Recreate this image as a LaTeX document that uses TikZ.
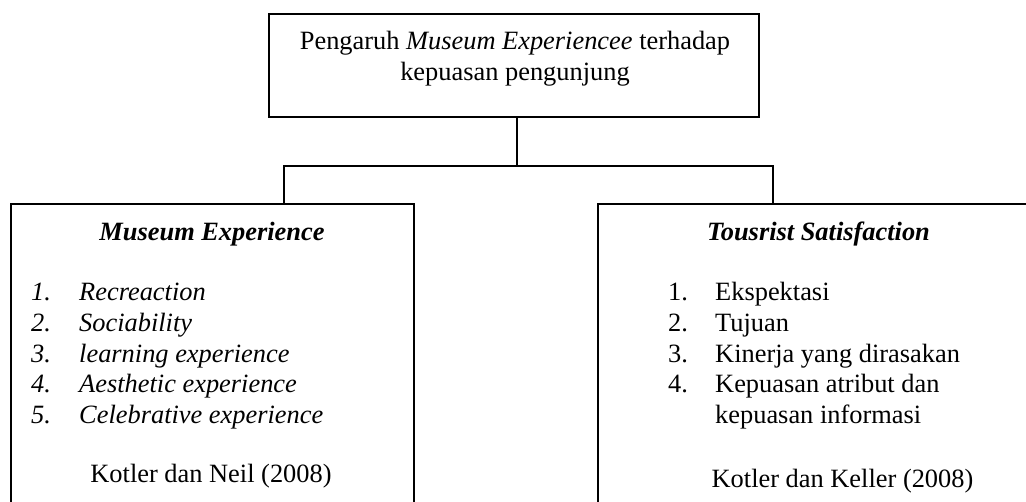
\documentclass[tikz,border=0pt]{standalone}
\usepackage{fontspec}
\setmainfont{Liberation Serif}
\begin{document}
\begin{tikzpicture}[x=1pt,y=-1pt,
  every node/.style={font=\fontsize{26.4}{31}\selectfont, inner sep=0pt},
  boxstyle/.style={draw, line width=1.4pt, rectangle},
  conn/.style={line width=1.4pt},
  itemtxt/.style={anchor=base west},
  ctr/.style={anchor=base}]
\useasboundingbox (0,0) rectangle (1026,501);
\fill[white] (0,0) rectangle (1026,501);
\begin{scope}
\clip (0,0) rectangle (1026,501);
\node[boxstyle, minimum width=490pt, minimum height=103pt] (top) at (514,65.5) {};
\node[boxstyle, minimum width=403pt, minimum height=330pt] (lbox) at (212.5,369) {};
\node[boxstyle, minimum width=441pt, minimum height=330pt] (rbox) at (818.5,369) {};
\end{scope}
% connectors
\coordinate (j) at (517,166);
\coordinate (jl) at (284,166);
\coordinate (jr) at (773,166);
\draw[conn] (top.south -| j) -- (j);
\draw[conn] (lbox.north -| jl) -- (jl) -- (jr) -- (rbox.north -| jr);
% top text
\node[ctr] (t1) at (515,49) {Pengaruh \textit{Museum Experiencee} terhadap};
\node[ctr] (t2) at (515,80) {kepuasan pengunjung};
% left box
\node[ctr] (lt) at (212,240) {\textbf{\textit{Museum Experience}}};
\foreach \n/\y/\t in {1/300/Recreaction, 2/331/Sociability, 3/362/learning experience, 4/392/Aesthetic experience, 5/423/Celebrative experience}{
  \node[itemtxt] (ln\n) at (31,\y) {\textit{\n.}};
  \node[itemtxt] (li\n) at (79,\y) {\textit{\t}};
}
\node[ctr] (lc) at (211,482) {Kotler dan Neil (2008)};
% right box
\node[ctr] (rt) at (818.5,240) {\textbf{\textit{Tousrist Satisfaction}}};
\foreach \n/\y/\t in {1/300/Ekspektasi, 2/331/Tujuan, 3/362/Kinerja yang dirasakan, 4/392/Kepuasan atribut dan}{
  \node[itemtxt] (rn\n) at (668,\y) {\n.};
  \node[itemtxt] (ri\n) at (715,\y) {\t};
}
\node[itemtxt] (ri5) at (715,423) {kepuasan informasi};
\node[ctr] (rc) at (842.5,487) {Kotler dan Keller (2008)};
\end{tikzpicture}
\end{document}
